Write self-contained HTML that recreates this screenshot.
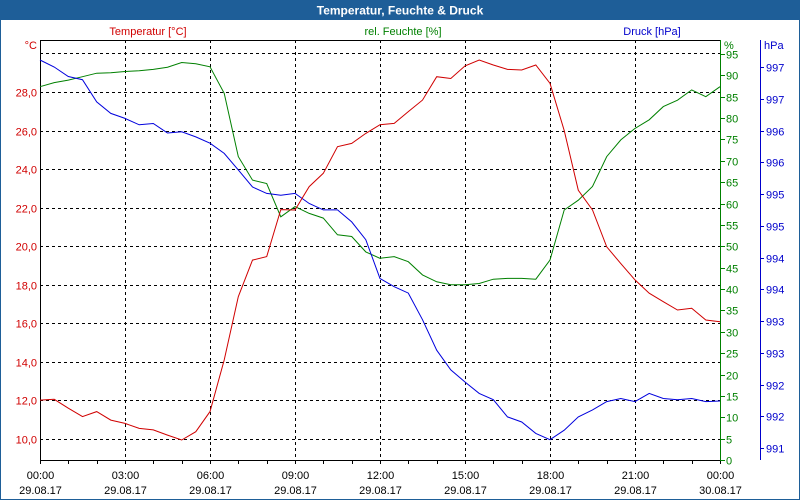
<!DOCTYPE html>
<html><head><meta charset="utf-8">
<style>
html,body{margin:0;padding:0;background:#fff;}
svg{display:block;font-family:"Liberation Sans",sans-serif;}
</style></head>
<body>
<svg id="chart" width="800" height="500" viewBox="0 0 800 500">
  <rect x="0.5" y="0.5" width="799" height="499" fill="#fff" stroke="#1e5e98"/>
  <rect x="0" y="0" width="800" height="20" fill="#1e5e98"/>
  <text x="400" y="14.5" text-anchor="middle" font-size="12" font-weight="bold" fill="#fff">Temperatur, Feuchte &amp; Druck</text>
  <text x="148" y="35" text-anchor="middle" font-size="11" fill="#d00000">Temperatur [°C]</text>
  <text x="403" y="35" text-anchor="middle" font-size="11" fill="#008000">rel. Feuchte [%]</text>
  <text x="652" y="35" text-anchor="middle" font-size="11" fill="#0000cc">Druck [hPa]</text>
  <text x="37" y="49" text-anchor="end" font-size="11" fill="#d00000">°C</text>
  <text x="724" y="49" font-size="11" fill="#008000">%</text>
  <text x="764" y="49" font-size="11" fill="#0000cc">hPa</text>
  <g id="grid"></g>
  <g id="axes"></g>
  <g id="series"></g>
</svg>
<script>
const hours = [];
for (let i = 0; i <= 48; i++) hours.push(i * 0.5);
const temperature = [12.02,12.06,11.6,11.16,11.42,10.98,10.81,10.55,10.47,10.2,9.95,10.38,11.42,14.1,17.38,19.28,19.46,21.9,21.88,23.09,23.78,25.16,25.33,25.85,26.3,26.37,26.98,27.58,28.79,28.7,29.35,29.66,29.4,29.17,29.14,29.4,28.45,26.0,22.9,21.88,19.97,19.1,18.25,17.56,17.12,16.69,16.78,16.17,16.08];
const humidity = [87.35,88.3,88.9,89.7,90.5,90.6,90.9,91.1,91.4,91.9,93.0,92.7,92.0,85.8,71.0,65.5,64.7,56.9,59.3,57.7,56.6,52.7,52.3,48.7,47.2,47.6,46.4,43.3,41.7,41.0,41.0,41.3,42.3,42.5,42.5,42.3,46.8,58.5,60.8,64.0,71.0,74.9,77.6,79.6,82.7,84.2,86.6,85.0,87.35];
const pressure = [997.11,997.0,996.85,996.8,996.45,996.27,996.19,996.09,996.11,995.96,995.98,995.9,995.8,995.64,995.38,995.11,995.01,994.98,995.01,994.85,994.75,994.75,994.56,994.28,993.67,993.54,993.44,993.02,992.54,992.23,992.04,991.86,991.76,991.49,991.41,991.23,991.13,991.28,991.49,991.6,991.73,991.78,991.73,991.86,991.78,991.76,991.78,991.73,991.74];
const tempTicks = [10,12,14,16,18,20,22,24,26,28,30];
const tempLabels = ["10,0","12,0","14,0","16,0","18,0","20,0","22,0","24,0","26,0","28,0",""];
const humTicks = [0,5,10,15,20,25,30,35,40,45,50,55,60,65,70,75,80,85,90,95];
const presTicks = [991,991.5,992,992.5,993,993.5,994,994.5,995,995.5,996,996.5,997];
const timeTicks = [0,3,6,9,12,15,18,21,24];
const timeLabels = ["00:00","03:00","06:00","09:00","12:00","15:00","18:00","21:00","00:00"];
const dateLabels = ["29.08.17","29.08.17","29.08.17","29.08.17","29.08.17","29.08.17","29.08.17","29.08.17","30.08.17"];

const X0=40, X1=720, Y0=40, Y1=460;
const xS = h => X0 + h*(X1-X0)/24;
const tS = t => 439 - (t-10)*19.28;
const hS = v => 460 - v*(406/95);
const pS = p => 448 - (p-991)*63.5;
const NS="http://www.w3.org/2000/svg";
function mk(tag, attrs, parent){const e=document.createElementNS(NS,tag);for(const k in attrs)e.setAttribute(k,attrs[k]);parent.appendChild(e);return e;}
const grid=document.getElementById('grid'), axes=document.getElementById('axes'), series=document.getElementById('series');

tempTicks.forEach((t,i)=>{
  const y=Math.round(tS(t))+0.5;
  const l=mk('line',{x1:X0,x2:X1,y1:y,y2:y,stroke:'#000','stroke-dasharray':'3,3'},grid);
  
  
  if(tempLabels[i]){
    const tx=mk('text',{x:37,y:y+4,'text-anchor':'end','font-size':11,fill:'#d00000'},axes);
    tx.textContent=tempLabels[i];
    
    
  }
});
timeTicks.forEach((h,i)=>{
  const x=Math.round(xS(h))+0.5;
  if(i>0&&i<timeTicks.length-1){
    const l=mk('line',{x1:x,x2:x,y1:Y0,y2:Y1,stroke:'#000','stroke-dasharray':'3,3'},grid);
    
    
  }
  const t1=mk('text',{x:x,y:479,'text-anchor':'middle','font-size':11,fill:'#000'},axes);
  t1.textContent=timeLabels[i];
  
  
  const t2=mk('text',{x:x,y:494,'text-anchor':'middle','font-size':11,fill:'#000'},axes);
  t2.textContent=dateLabels[i];
  
  
});
for(let h=0;h<=24;h++){
  const x=Math.round(xS(h))+0.5;
  const l=mk('line',{x1:x,x2:x,y1:Y1,y2:Y1+4,stroke:'#000'},axes);
  
  
}
const topL=mk('line',{x1:X0,x2:X1,y1:Y0+0.5,y2:Y0+0.5,stroke:'#000'},axes);


const leftA=mk('line',{x1:X0+0.5,x2:X0+0.5,y1:Y0,y2:Y1+4,stroke:'#000'},axes);


const botA=mk('line',{x1:X0,x2:X1,y1:Y1+0.5,y2:Y1+0.5,stroke:'#000'},axes);


const gA=mk('line',{x1:720.5,x2:720.5,y1:Y0,y2:Y1+1,stroke:'#008000'},axes);


humTicks.forEach(v=>{
  const y=Math.round(hS(v))+0.5;
  const l=mk('line',{x1:720,x2:725,y1:y,y2:y,stroke:'#008000'},axes);
  
  
  const t=mk('text',{x:726,y:y+4,'font-size':11,fill:'#008000'},axes);
  t.textContent=v;
  
  
});
const bA=mk('line',{x1:760.5,x2:760.5,y1:Y0,y2:Y1,stroke:'#0000cc'},axes);


presTicks.forEach(v=>{
  const y=Math.round(pS(v))+0.5;
  const l=mk('line',{x1:760,x2:764,y1:y,y2:y,stroke:'#0000cc'},axes);
  
  
  const t=mk('text',{x:766,y:y+4,'font-size':11,fill:'#0000cc'},axes);
  t.textContent=Math.round(v);
  
  
});
function pts(arr,sc){return arr.map((v,i)=>xS(hours[i]).toFixed(1)+','+sc(v).toFixed(1)).join(' ');}
const pH=mk('polyline',{points:pts(humidity,hS),fill:'none',stroke:'#008000','stroke-width':1},series);


const pP=mk('polyline',{points:pts(pressure,pS),fill:'none',stroke:'#0000dd','stroke-width':1},series);


const pT=mk('polyline',{points:pts(temperature,tS),fill:'none',stroke:'#d00000','stroke-width':1},series);


</script>
</body></html>
